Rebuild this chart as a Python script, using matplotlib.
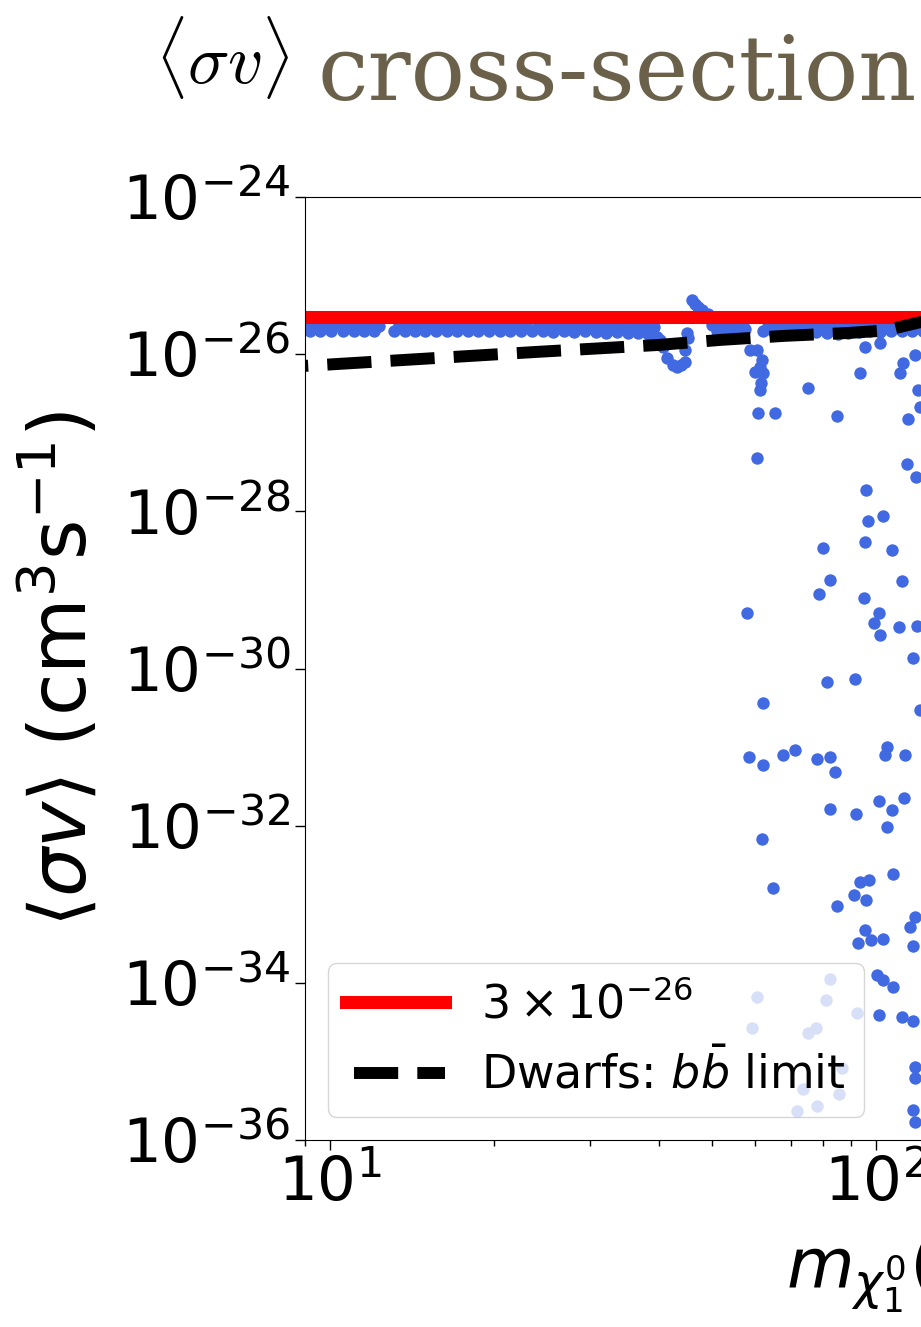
import numpy as np
import matplotlib.pyplot as plt
from matplotlib.ticker import NullLocator, FixedLocator

plt.rcParams['mathtext.fontset'] = 'dejavusans'

# upper band of points just below the thermal value (two overlapping rows)
band_top_mass = [9.0, 9.4, 9.85, 10.3, 10.8, 11.3, 11.8, 12.3, 13.4, 14.0,
                 14.6, 15.3, 16.0, 16.7, 17.5, 18.3, 19.1, 20.0, 20.9, 21.9,
                 22.9, 24.0, 25.1, 26.2, 27.4, 28.7, 30.0, 31.4, 32.8, 34.3,
                 35.9, 37.5, 39.2,
                 50.0, 52.3, 54.7, 57.2, 63.5, 66.4, 69.5, 72.7, 76.0, 79.5,
                 83.2, 87.0, 91.0, 95.2, 99.6, 104.2, 109.0, 114.0, 119.2, 124.7]
band_top_sv = [2.35e-26, 2.3e-26, 2.35e-26, 2.4e-26, 2.35e-26, 2.3e-26, 2.35e-26, 2.3e-26, 2.35e-26, 2.4e-26,
               2.35e-26, 2.3e-26, 2.35e-26, 2.35e-26, 2.3e-26, 2.35e-26, 2.4e-26, 2.35e-26, 2.3e-26, 2.35e-26,
               2.3e-26, 2.35e-26, 2.3e-26, 2.35e-26, 2.3e-26, 2.25e-26, 2.3e-26, 2.25e-26, 2.3e-26, 2.25e-26,
               2.2e-26, 2.25e-26, 2.2e-26,
               2.35e-26, 2.3e-26, 2.35e-26, 2.3e-26, 2.3e-26, 2.35e-26, 2.3e-26, 2.35e-26, 2.3e-26, 2.25e-26,
               2.2e-26, 2.25e-26, 2.3e-26, 2.35e-26, 2.3e-26, 2.35e-26, 2.3e-26, 2.35e-26, 2.3e-26, 2.35e-26]
band_low_mass = [9.2, 9.6, 10.05, 10.55, 11.05, 11.55, 12.05, 13.1, 13.7, 14.3,
                 14.95, 15.65, 16.35, 17.1, 17.9, 18.7, 19.55, 20.45, 21.4, 22.4,
                 23.45, 24.55, 25.65, 26.8, 28.05, 29.35, 30.7, 32.1, 33.55, 35.1,
                 36.7, 38.3,
                 51.1, 53.5, 55.9, 62.0, 64.9, 67.9, 71.1, 74.3, 77.7, 81.3,
                 85.1, 89.0, 93.1, 97.4, 101.9, 106.6, 111.5, 116.6, 121.9]
band_low_sv = [2.0e-26, 1.95e-26, 2.0e-26, 1.95e-26, 2.0e-26, 1.95e-26, 2.0e-26, 1.95e-26, 2.0e-26, 1.95e-26,
               2.0e-26, 1.95e-26, 1.95e-26, 2.0e-26, 1.95e-26, 2.0e-26, 1.95e-26, 2.0e-26, 1.95e-26, 1.95e-26,
               2.0e-26, 1.95e-26, 1.9e-26, 1.95e-26, 1.9e-26, 1.95e-26, 1.9e-26, 1.85e-26, 1.9e-26, 1.85e-26,
               1.85e-26, 1.8e-26,
               2.0e-26, 1.95e-26, 2.0e-26, 1.95e-26, 2.0e-26, 1.95e-26, 2.0e-26, 1.95e-26, 1.9e-26, 1.85e-26,
               1.8e-26, 1.85e-26, 1.9e-26, 1.95e-26, 1.9e-26, 1.95e-26, 2.0e-26, 1.95e-26, 2.0e-26]

# Z dip and spike near 45 GeV
zdip_mass = [39.7, 40.3, 40.7, 41.4, 42.5, 43.2, 44.0, 44.7, 44.7, 45.1, 45.3,
             46.0, 46.6, 47.2, 48.0, 49.2, 50.7, 52.9, 55.2, 57.5]
zdip_sv = [1.66e-26, 1.5e-26, 1.23e-26, 8.9e-27, 7.3e-27, 6.9e-27, 7.2e-27, 8.0e-27,
           1.13e-26, 1.86e-26, 1.6e-26,
           4.9e-26, 4.4e-26, 4.0e-26, 3.65e-26, 3.24e-26, 2.89e-26, 2.64e-26, 2.35e-26, 2.1e-26]

# Higgs funnel column near 62 GeV
hfun_mass = [58.8, 60.5, 60.0, 61.8, 62.1, 61.3, 61.5, 61.3, 60.8, 65.3, 60.5,
             58.0, 62.1, 61.8, 64.7, 58.5, 62.1]
hfun_sv = [1.13e-26, 1.13e-26, 5.9e-27, 8.4e-27, 5.8e-27, 6.9e-27, 4.3e-27, 3.5e-27,
           1.79e-27, 1.79e-27, 4.8e-28, 5.1e-30, 3.65e-31, 6.8e-33, 1.62e-33,
           7.5e-32, 5.9e-32]

# remaining scan points
scan_mass = [75.1, 84.8, 95.5, 101.7, 93.5, 112.1, 110.6, 117.9, 119.4, 120.4, 114.4,
             114.0, 118.4, 95.9, 103.0, 96.7, 95.5, 79.9, 107.0, 82.4, 111.6, 78.6,
             95.1, 101.3, 99.2, 110.1, 118.9, 101.7, 116.9, 81.3, 91.5, 120.4,
             67.5, 71.1, 77.9, 82.4, 84.1,
             104.7, 103.9, 113.0, 82.4, 91.9, 101.3, 107.0, 112.5, 104.7, 84.8, 91.1,
             93.5, 97.1, 95.9, 107.4, 115.4, 117.9, 116.9, 92.7, 95.5, 97.9, 103.0,
             100.4, 103.0, 107.4, 101.3, 111.6, 116.9,
             82.4, 60.5, 80.9, 92.3, 59.3, 75.1, 77.6, 86.7, 73.5, 85.5, 71.7, 77.9,
             117.9, 117.9, 116.9, 117.9]
scan_sv = [3.7e-27, 1.64e-27, 1.23e-26, 1.39e-26, 5.8e-27, 7.7e-27, 5.8e-27, 9.8e-27,
           3.5e-27, 2.1e-27, 1.5e-27, 4.0e-28, 2.7e-28, 1.87e-28, 8.7e-29, 7.6e-29,
           4.1e-29, 3.4e-29, 3.2e-29, 1.34e-29, 1.3e-29, 8.9e-30, 7.9e-30, 5.1e-30,
           3.8e-30, 3.4e-30, 3.5e-30, 2.7e-30, 1.36e-30, 6.8e-31, 7.4e-31, 3.0e-31,
           8.0e-32, 9.2e-32, 7.1e-32, 7.5e-32, 4.8e-32,
           1.0e-31, 8.0e-32, 8.0e-32, 1.64e-32, 1.41e-32, 2.07e-32, 1.59e-32, 2.26e-32,
           9.7e-33, 9.5e-34, 1.32e-33, 1.93e-33, 2.04e-33, 1.14e-33, 2.44e-33, 5.2e-34,
           6.9e-34, 2.9e-34, 3.2e-34, 4.7e-34, 3.5e-34, 3.6e-34, 1.26e-34, 1.09e-34,
           8.9e-35, 3.9e-35, 3.7e-35, 3.3e-35,
           1.12e-34, 6.6e-35, 6.1e-35, 4.15e-35, 2.7e-35, 2.3e-35, 2.7e-35, 8.3e-36,
           4.5e-36, 3.8e-36, 2.35e-36, 2.7e-36,
           8.5e-36, 6.2e-36, 2.4e-36, 1.7e-36]

# Fermi dwarfs b bbar limit
dwarf_mass = [9, 10, 24, 40, 52, 68, 89, 104, 121, 200, 500, 1000, 2000]
dwarf_sv = [7.1e-27, 7.4e-27, 1.07e-26, 1.31e-26, 1.52e-26, 1.71e-26, 1.86e-26,
            2.0e-26, 2.57e-26, 5.5e-26, 1.3e-25, 2.6e-25, 5.2e-25]

thermal = 3e-26

mass = np.concatenate([band_top_mass, band_low_mass, zdip_mass, hfun_mass, scan_mass])
sv = np.concatenate([band_top_sv, band_low_sv, zdip_sv, hfun_sv, scan_sv])

fig = plt.figure(figsize=(9.21, 13.27), dpi=100)
ax = fig.add_axes([305/921, 187/1327, 1281/921, 943/1327])

ax.scatter(mass, sv, s=80, color='royalblue', linewidths=0, zorder=1)
ax.axhline(thermal, color='red', lw=9.4, label=r'$3\times10^{-26}$', zorder=2)
ax.plot(dwarf_mass, dwarf_sv, color='black', lw=8.6, linestyle=(3.43, (3.7, 1.6)),
        label=r'Dwarfs: $b\bar{b}$ limit', zorder=3)

ax.set_xscale('log')
ax.set_yscale('log')
ax.set_xlim(9, 2000)
ax.set_ylim(1e-36, 1e-24)
ax.yaxis.set_major_locator(FixedLocator([10.0**k for k in range(-36, -23, 2)]))
ax.yaxis.set_minor_locator(NullLocator())
ax.tick_params(which='major', labelsize=44, length=7, width=1)
ax.tick_params(which='minor', length=4, width=1)

ax.set_ylabel(r'$\langle\sigma v\rangle$ (cm$^3$s$^{-1}$)', fontsize=56, labelpad=14)
ax.set_xlabel(r'$m_{\chi_1^0}$(GeV)', fontsize=50, labelpad=14)

leg = ax.legend(loc='lower left', fontsize=33, handlelength=2.15)
leg.get_lines()[1].set_linestyle((4.63, (3.7, 1.6)))

fig.text(155/921, 1 - 84/1327, r'$\langle\sigma v\rangle$', fontsize=50,
         math_fontfamily='cm', ha='left', va='baseline')
fig.text(318/921, 1 - 100/1327, 'cross-section', family='DejaVu Serif', fontsize=65,
         color='#6b614b', ha='left', va='baseline')

fig.savefig('out.png', dpi=100)
